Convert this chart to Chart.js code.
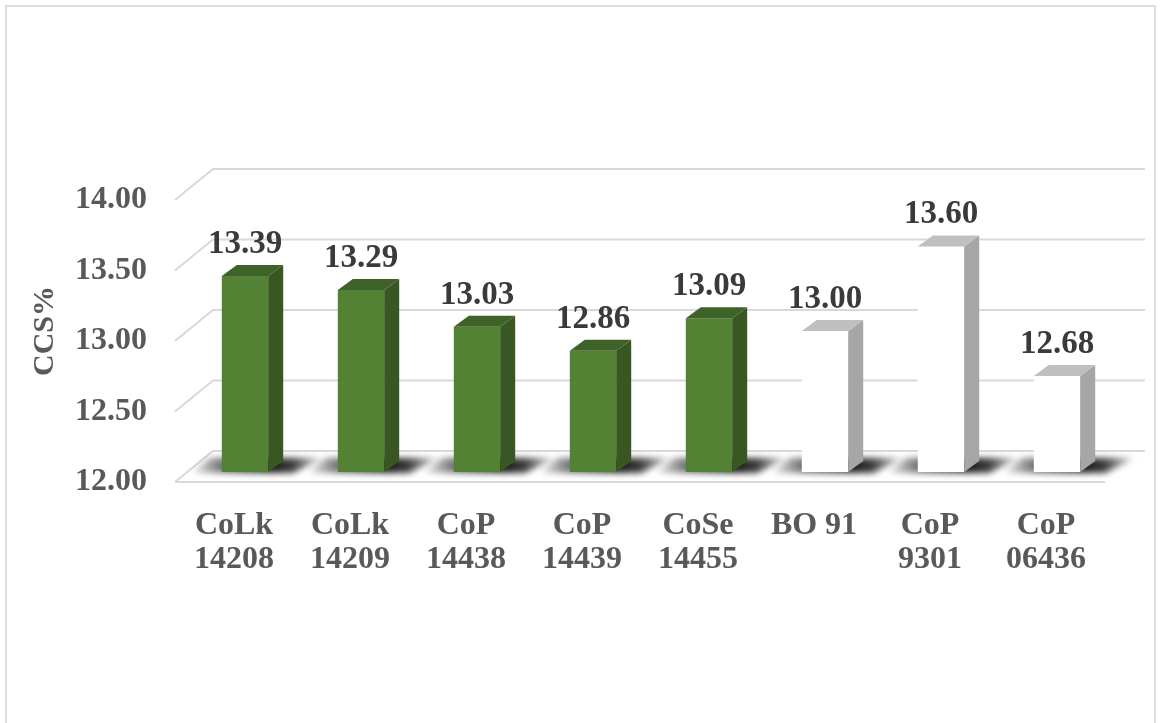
<!DOCTYPE html>
<html>
<head>
<meta charset="utf-8">
<script src="https://cdn.jsdelivr.net/npm/chart.js@4"></script>
<style>
  body { margin: 0; background: #fff; }
  #wrap { position: relative; width: 1160px; height: 723px; overflow: hidden; }
  #frame { position: absolute; left: 5px; top: 5px; width: 1151px; height: 740px; border: 2px solid #dcdcdc; box-sizing: border-box; }
  #chartBox { position: absolute; left: 0; top: 0; width: 1160px; height: 723px; }
</style>
</head>
<body>
<div id="wrap">
  <div id="frame"></div>
  <div id="chartBox"><canvas id="ccsChart"></canvas></div>
</div>
<script>
const categories = [
  ['CoLk', '14208'], ['CoLk', '14209'], ['CoP', '14438'], ['CoP', '14439'],
  ['CoSe', '14455'], ['BO 91'], ['CoP', '9301'], ['CoP', '06436']
]
const ccsValues = [13.39, 13.29, 13.03, 12.86, 13.09, 13.00, 13.60, 12.68]
const isCheck = [false, false, false, false, false, true, true, true]
const yTicks = [12.00, 12.50, 13.00, 13.50, 14.00]

const serif = '"Liberation Serif", "Times New Roman", serif'
const DX = 15, DY = -11

function faceColors(i){
  if(isCheck[i]) return { front: '#ffffff', side: '#a6a6a6', top: '#bfbfbf' }
  return { front: '#548235', side: '#385723', top: '#3f6228' }
}

// walls, floor and shadows behind the bars
const wallsPlugin = {
  id: 'walls',
  beforeDatasetsDraw(chart){
    const ctx = chart.ctx
    const y = chart.scales.y
    const area = chart.chartArea
    ctx.save()
    ctx.strokeStyle = '#d9d9d9'
    ctx.lineWidth = 2
    yTicks.forEach(v => {
      const py = y.getPixelForValue(v)
      ctx.beginPath()
      ctx.moveTo(area.left - 12, py + 10)
      ctx.lineTo(area.left + 26, py - 21)
      ctx.lineTo(area.right + 30, py - 21)
      ctx.stroke()
    })
    const base = y.getPixelForValue(12)
    ctx.beginPath()
    ctx.moveTo(area.left - 12, base + 10)
    ctx.lineTo(area.right - 10, base + 10)
    ctx.stroke()

    // shadows on the floor
    const meta = chart.getDatasetMeta(0)
    meta.data.forEach(bar => {
      const x0 = bar.x - bar.width / 2
      const x1 = bar.x + bar.width / 2
      const g = ctx.createLinearGradient(x0 - 35, 0, x1 + DX + 45, 0)
      g.addColorStop(0, 'rgba(0,0,0,0)')
      g.addColorStop(0.25, 'rgba(0,0,0,0.55)')
      g.addColorStop(0.6, 'rgba(0,0,0,0.9)')
      g.addColorStop(0.75, 'rgba(0,0,0,0.75)')
      g.addColorStop(1, 'rgba(0,0,0,0)')
      ctx.filter = 'blur(3px)'
      ctx.fillStyle = g
      ctx.beginPath()
      ctx.moveTo(x0 - 30, base + 1)
      ctx.lineTo(x1 + 25, base + 1)
      ctx.lineTo(x1 + DX + 40, base - 14)
      ctx.lineTo(x0 - 12, base - 14)
      ctx.closePath()
      ctx.fill()
      ctx.filter = 'none'
    })
    ctx.restore()
  },
  afterDatasetsDraw(chart){
    const ctx = chart.ctx
    const meta = chart.getDatasetMeta(0)
    const base = chart.scales.y.getPixelForValue(12)
    ctx.save()
    meta.data.forEach((bar, i) => {
      const c = faceColors(i)
      const x0 = bar.x - bar.width / 2
      const x1 = bar.x + bar.width / 2
      const top = bar.y
      ctx.fillStyle = c.side
      ctx.beginPath()
      ctx.moveTo(x1, top)
      ctx.lineTo(x1 + DX, top + DY)
      ctx.lineTo(x1 + DX, base + DY)
      ctx.lineTo(x1, base)
      ctx.closePath()
      ctx.fill()
      ctx.fillStyle = c.top
      ctx.beginPath()
      ctx.moveTo(x0, top)
      ctx.lineTo(x0 + DX, top + DY)
      ctx.lineTo(x1 + DX, top + DY)
      ctx.lineTo(x1, top)
      ctx.closePath()
      ctx.fill()

      ctx.fillStyle = '#3a3a3a'
      ctx.font = 'bold 33px ' + serif
      ctx.textAlign = 'center'
      ctx.textBaseline = 'alphabetic'
      ctx.fillText(ccsValues[i].toFixed(2), bar.x, top - 23)
    })
    ctx.restore()
  }
}

const ccsChart = new Chart(document.getElementById('ccsChart').getContext('2d'), {
  type: 'bar',
  data: {
    labels: categories,
    datasets: [{
      data: ccsValues,
      backgroundColor: ccsValues.map((v, i) => faceColors(i).front),
      borderWidth: 0,
      barPercentage: 0.4,
      categoryPercentage: 1
    }]
  },
  options: {
    responsive: true,
    maintainAspectRatio: false,
    animation: false,
    layout: { padding: { left: 0, top: 190, right: 45, bottom: 151 } },
    plugins: { legend: { display: false }, tooltip: { enabled: false } },
    scales: {
      x: {
        grid: { display: false },
        border: { display: false },
        ticks: {
          color: '#595959',
          font: { family: serif, size: 32, weight: 'bold', lineHeight: 1.06 },
          padding: 29,
          labelOffset: -11,
          maxRotation: 0,
          autoSkip: false
        },
        afterFit(scale){ scale.height = 100 }
      },
      y: {
        min: 12,
        max: 14,
        grid: { display: false },
        border: { display: false },
        ticks: {
          stepSize: 0.5,
          color: '#595959',
          font: { family: serif, size: 32, weight: 'bold' },
          padding: 32,
          labelOffset: 10,
          callback: v => v.toFixed(2)
        },
        title: {
          display: true,
          text: 'CCS%',
          color: '#595959',
          font: { family: serif, size: 30, weight: 'bold' },
          padding: { top: 27, bottom: 0 }
        },
        afterFit(scale){ scale.width = 187 }
      }
    }
  },
  plugins: [wallsPlugin]
})
</script>
</body>
</html>
